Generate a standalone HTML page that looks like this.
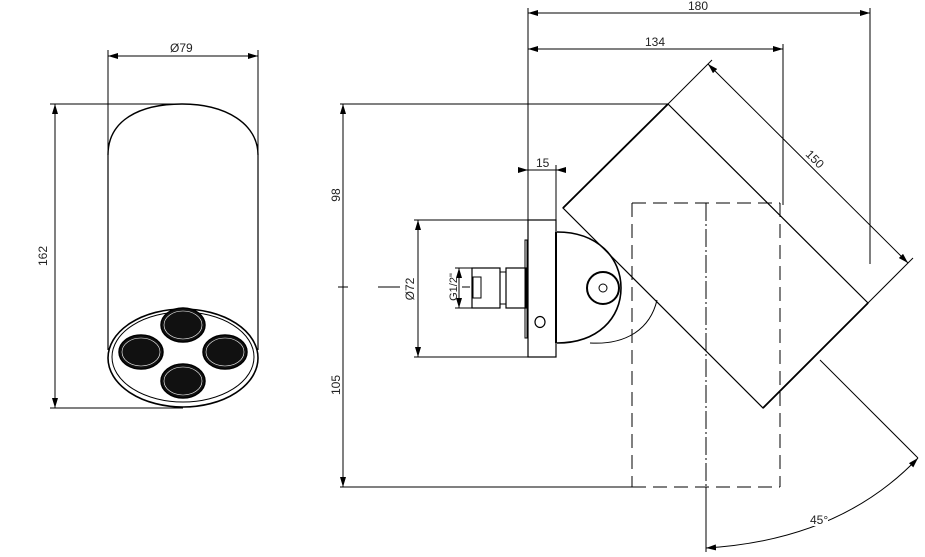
<!DOCTYPE html>
<html><head><meta charset="utf-8"><style>
html,body{margin:0;padding:0;background:#fff;width:925px;height:557px;overflow:hidden}
svg{display:block}
text{font-family:"Liberation Sans",sans-serif;font-size:12px;fill:#222}
</style></head><body>
<svg width="925" height="557" viewBox="0 0 925 557" xmlns="http://www.w3.org/2000/svg">
<defs>
<marker id="a" viewBox="0 0 10 6" refX="10" refY="3" markerWidth="10" markerHeight="6" orient="auto-start-reverse" markerUnits="userSpaceOnUse"><path d="M0,0 L10,3 L0,6z" fill="#000"/></marker>
</defs>
<g stroke="#000" fill="none" stroke-width="1">
<line x1="108" y1="50" x2="108" y2="155"/><line x1="258" y1="50" x2="258" y2="155"/>
<line x1="108" y1="56" x2="258" y2="56" marker-start="url(#a)" marker-end="url(#a)"/>
<line x1="50" y1="104" x2="183" y2="104"/><line x1="50" y1="408" x2="183" y2="408"/>
<line x1="55" y1="104" x2="55" y2="408" marker-start="url(#a)" marker-end="url(#a)"/>
<path d="M108,155 C108,120 140,104 182,104 C226,104 258,124 258,155" stroke-width="1.4"/>
<line x1="108" y1="155" x2="108" y2="350" stroke-width="1.2"/>
<line x1="258" y1="155" x2="258" y2="350" stroke-width="1.2"/>
<ellipse cx="183" cy="358" rx="75" ry="49" stroke-width="1.6"/>
<ellipse cx="183" cy="357" rx="71" ry="45"/>
<g fill="#111" stroke="#000" stroke-width="1.5">
<ellipse cx="183" cy="325" rx="22" ry="17"/>
<ellipse cx="141" cy="352" rx="22" ry="17"/>
<ellipse cx="225" cy="352" rx="22" ry="17"/>
<ellipse cx="183" cy="381" rx="22" ry="17"/>
</g>
<g stroke="#fff" stroke-width="0.6" fill="none">
<ellipse cx="183" cy="325" rx="19" ry="14"/>
<ellipse cx="141" cy="352" rx="19" ry="14"/>
<ellipse cx="225" cy="352" rx="19" ry="14"/>
<ellipse cx="183" cy="381" rx="19" ry="14"/>
</g>

<line x1="528" y1="8" x2="528" y2="220"/>
<line x1="870" y1="8" x2="870" y2="264"/>
<line x1="528" y1="13" x2="870" y2="13" marker-start="url(#a)" marker-end="url(#a)"/>
<line x1="783" y1="44" x2="783" y2="205"/>
<line x1="528" y1="49" x2="783" y2="49" marker-start="url(#a)" marker-end="url(#a)"/>
<line x1="340" y1="104" x2="668" y2="104"/>
<line x1="343" y1="104" x2="343" y2="487" marker-start="url(#a)" marker-end="url(#a)"/>
<line x1="338" y1="287" x2="348" y2="287"/>
<line x1="340" y1="487" x2="632" y2="487"/>
<line x1="378" y1="287" x2="400" y2="287"/>
<line x1="518" y1="170" x2="528" y2="170" marker-end="url(#a)"/>
<line x1="566" y1="170" x2="556" y2="170" marker-end="url(#a)"/>
<line x1="528" y1="170" x2="556" y2="170"/>
<line x1="556" y1="165" x2="556" y2="220"/>
<line x1="414" y1="220" x2="528" y2="220"/><line x1="414" y1="357" x2="528" y2="357"/>
<line x1="418" y1="220" x2="418" y2="357" marker-start="url(#a)" marker-end="url(#a)"/>
<line x1="455" y1="268" x2="472" y2="268"/><line x1="455" y1="308" x2="472" y2="308"/>
<line x1="459" y1="268" x2="459" y2="308" marker-start="url(#a)" marker-end="url(#a)"/>
<line x1="462" y1="287" x2="470" y2="287"/>
<rect x="472" y="268" width="28" height="40" stroke-width="1.2"/>
<rect x="473" y="277" width="8" height="21"/>
<rect x="500" y="272" width="6" height="32"/>
<rect x="506" y="268" width="20" height="40" stroke-width="1.2"/>
<rect x="525" y="240" width="2" height="98"/>
<rect x="528" y="220" width="28" height="137" stroke-width="1.2"/>
<ellipse cx="540" cy="322" rx="5" ry="5.5" stroke-width="1.2"/>
<line x1="556" y1="232" x2="556" y2="343" stroke-width="2"/>
<path d="M557,232 C598,232 621,258 621,288 C621,318 598,343 557,343" stroke-width="1.6"/>
<path d="M657,300 C650,330 625,345 590,343" />
<circle cx="603" cy="288" r="16" stroke-width="2"/>
<circle cx="603" cy="288" r="4"/>
<polygon points="668,104 868,303 763,408 563,208" stroke-width="1.2"/>
<line x1="668" y1="104" x2="563" y2="208" stroke-width="1.8"/>
<line x1="868" y1="303" x2="763" y2="408" stroke-width="1.8"/>
<line x1="668" y1="104" x2="712" y2="60"/>
<line x1="868" y1="303" x2="913" y2="258"/>
<line x1="708" y1="64" x2="908" y2="263" marker-start="url(#a)" marker-end="url(#a)"/>
<g stroke-dasharray="14,7">
<line x1="632" y1="203" x2="780" y2="203"/>
<line x1="632" y1="203" x2="632" y2="487"/>
<line x1="780" y1="203" x2="780" y2="487"/>
<line x1="632" y1="487" x2="780" y2="487"/>
</g>
<line x1="706" y1="203" x2="706" y2="487" stroke-dasharray="18,3,2,3"/>
<line x1="706" y1="487" x2="706" y2="552"/>
<line x1="820" y1="360" x2="918" y2="458"/>
<path d="M918,458 Q840,540 706,548" marker-start="url(#a)" marker-end="url(#a)"/>
</g>
<rect x="800" y="510" width="28" height="16" fill="#fff"/>
<text x="170" y="52">Ø79</text>
<text x="47" y="256" transform="rotate(-90 47 256)" text-anchor="middle">162</text>
<text x="688" y="10">180</text>
<text x="645" y="46">134</text>
<text x="536" y="167">15</text>
<text x="340" y="195" transform="rotate(-90 340 195)" text-anchor="middle">98</text>
<text x="340" y="385" transform="rotate(-90 340 385)" text-anchor="middle">105</text>
<text x="414" y="289" transform="rotate(-90 414 289)" text-anchor="middle">Ø72</text>
<text x="457" y="287" transform="rotate(-90 457 287)" text-anchor="middle" style="font-size:11px">G1/2"</text>
<text x="812" y="162" transform="rotate(45 812 162)" text-anchor="middle">150</text>
<text x="810" y="524">45°</text>
</svg>
</body></html>
